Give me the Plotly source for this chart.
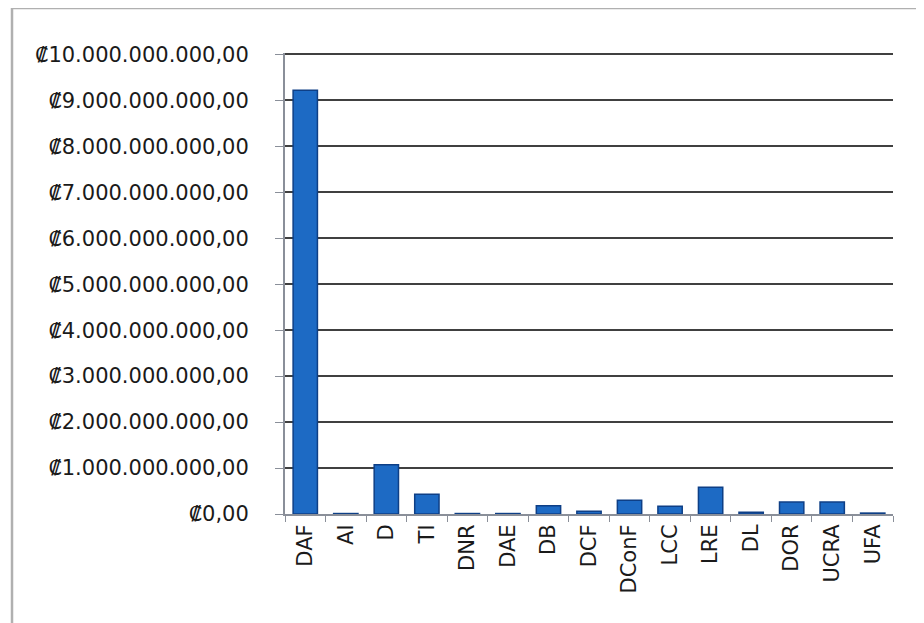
import plotly.graph_objects as go

categories = ["DAF", "AI", "D", "TI", "DNR", "DAE", "DB", "DCF", "DConF", "LCC", "LRE", "DL", "DOR", "UCRA", "UFA"]
values = [9.22e9, 0.01e9, 1.07e9, 0.43e9, 0.01e9, 0.01e9, 0.18e9, 0.06e9, 0.30e9, 0.17e9, 0.58e9, 0.04e9, 0.26e9, 0.26e9, 0.02e9]
tick_vals = [i * 1e9 for i in range(11)]
tick_text = ["₡0,00"] + ["₡{}.000.000.000,00".format(i) for i in range(1, 11)]

fig = go.Figure(go.Bar(
    x=categories, y=values, width=0.6,
    marker=dict(color="#1D6AC4", line=dict(color="#0E3F86", width=1.5)),
))

font = dict(family="DejaVu Sans, sans-serif", size=21, color="#1a1a1a")

fig.update_layout(
    width=924, height=623,
    margin=dict(l=277, r=39, t=45, b=117),
    paper_bgcolor="white", plot_bgcolor="white",
    showlegend=False, font=font,
    bargap=0.4,
    xaxis=dict(
        automargin=False,
        showgrid=False, showline=True, linecolor="#8a8f99", linewidth=2,
        ticks="outside", tickson="boundaries", ticklen=6, tickcolor="#8a8f99",
        tickangle=-90, tickfont=font,
    ),
    yaxis=dict(
        automargin=False,
        range=[0, 1.003e10], tickvals=tick_vals, ticktext=tick_text,
        showgrid=True, gridcolor="#404040", gridwidth=1.8,
        showline=True, linecolor="#8a8f99", linewidth=2,
        ticks="outside", ticklen=8, tickcolor="#8a8f99",
        ticklabelstandoff=22, tickfont=font, zeroline=False,
    ),
    shapes=[dict(type="rect", xref="paper", yref="paper",
                 x0=-0.449, x1=1.2, y0=-0.3, y1=1.0976,
                 line=dict(color="#b0b0b0", width=2.5), fillcolor="rgba(0,0,0,0)", layer="below")],
)

fig.write_html("out.html")
